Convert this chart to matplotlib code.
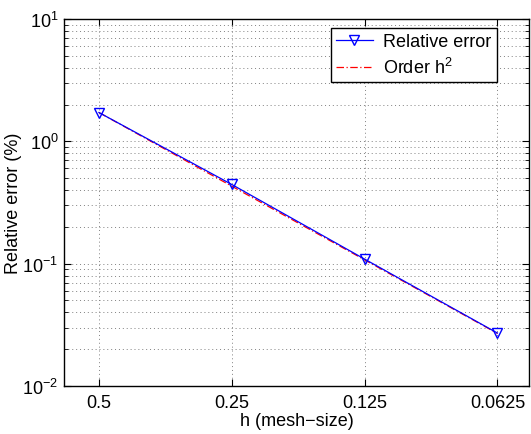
import matplotlib
matplotlib.use("Agg")
import matplotlib.pyplot as plt
from matplotlib.ticker import FixedLocator, FixedFormatter, LogLocator, NullLocator, NullFormatter

plt.rcParams['font.family'] = ['Liberation Sans', 'DejaVu Sans']
plt.rcParams['mathtext.fontset'] = 'custom'
plt.rcParams['mathtext.rm'] = 'Liberation Sans'
plt.rcParams['mathtext.it'] = 'Liberation Sans:italic'

h = [0.5, 0.25, 0.125, 0.0625]
rel_error = [1.72, 0.444, 0.109, 0.0271]
order_h2 = [1.72, 0.43, 0.1075, 0.0269]
xtick_labels = ['0.5', '0.25', '0.125', '0.0625']

FS = 13

fig = plt.figure(figsize=(5.31, 4.35), dpi=100)
ax = fig.add_axes([64/531, 48/435, 465/531, 367/435])

ax.plot(h, rel_error, color='#0000ff', lw=0.9, marker='v', markersize=7,
        markerfacecolor='none', markeredgecolor='#0000ff', markeredgewidth=1.0,
        label='Relative error', zorder=3)
ax.plot(h, order_h2, color='#ff0000', lw=0.9, linestyle='-.', dashes=(6, 2, 1, 2),
        label='Order h$^2$', zorder=2)

ax.set_xscale('log')
ax.set_yscale('log')
ax.set_xlim(0.6, 0.053)
ax.set_ylim(1e-2, 1e1)

ax.xaxis.set_major_locator(FixedLocator(h))
ax.xaxis.set_major_formatter(FixedFormatter(xtick_labels))
ax.xaxis.set_minor_locator(NullLocator())
ax.xaxis.set_minor_formatter(NullFormatter())
ax.yaxis.set_major_locator(LogLocator(base=10, numticks=10))
ax.yaxis.set_minor_locator(LogLocator(base=10, subs=range(2, 10), numticks=10))
ax.yaxis.set_minor_formatter(NullFormatter())

ax.grid(True, which='major', axis='both', linestyle=(0, (1, 3)), color='#808080', lw=0.7)
ax.grid(True, which='minor', axis='y', linestyle=(0, (1, 3)), color='#808080', lw=0.7)

ax.tick_params(which='both', direction='in', top=True, right=True, labelsize=FS, colors='black')
ax.tick_params(which='major', length=5, width=0.8)
ax.tick_params(which='minor', length=3, width=0.6)
ax.tick_params(axis='x', pad=6)
ax.tick_params(axis='y', pad=4)
for s in ax.spines.values():
    s.set_linewidth(1.0)
    s.set_color('black')

ax.set_xlabel('h (mesh\u2212size)', fontsize=FS)
ax.set_ylabel('Relative error (%)', fontsize=FS)
ax.xaxis.set_label_coords(0.5, -0.07)
ax.yaxis.set_label_coords(-0.09, 0.5)

leg = ax.legend(loc='upper left', bbox_to_anchor=(331/531, 1 - 29/435), bbox_transform=fig.transFigure,
                fontsize=FS, frameon=True, fancybox=False, framealpha=1, edgecolor='black',
                borderpad=0.3, handlelength=2.0, handletextpad=0.6, labelspacing=0.35, borderaxespad=0)
leg.get_frame().set_linewidth(1.0)

fig.savefig('out.png', dpi=100)
